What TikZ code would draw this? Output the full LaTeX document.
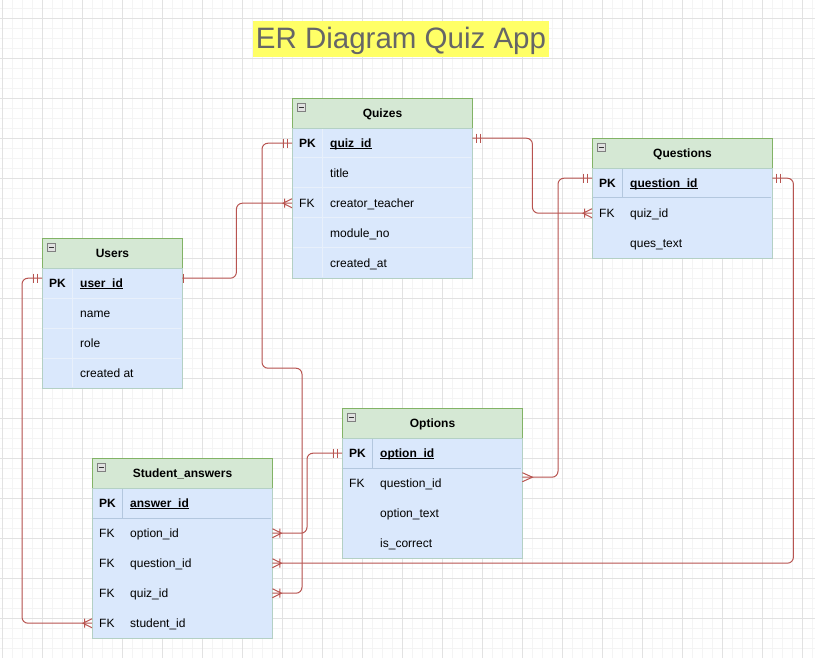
\documentclass[tikz,border=0pt]{standalone}
\usepackage{fontspec}
\setmainfont{Liberation Sans}
\definecolor{linered}{HTML}{B85450}
\definecolor{hdrfill}{HTML}{D5E8D4}
\definecolor{hdrline}{HTML}{82B366}
\definecolor{bodyfill}{HTML}{DAE8FC}
\definecolor{bodyline}{HTML}{B4D0C4}
\definecolor{sepline}{HTML}{B3C7DE}
\definecolor{faintsep}{HTML}{E8F0FB}
\definecolor{gridminor}{HTML}{F4F4F4}
\definecolor{gridmajor}{HTML}{E2E2E2}
\definecolor{titlefill}{HTML}{FFFF66}
\definecolor{titletext}{HTML}{666666}
\newcommand\tabfs{\fontsize{12}{14}\selectfont}
\newcommand\pkul[1]{\setbox0=\hbox{#1}\rlap{\rule[-1.6pt]{\wd0}{1.2pt}}\box0}
\tikzset{
  relline/.style={draw=linered, line width=1pt, rounded corners=6pt},
  markline/.style={draw=linered, line width=1pt},
  hdr/.style={draw=hdrline, fill=hdrfill, line width=1pt, minimum height=30, inner sep=0, anchor=north west, font=\bfseries\tabfs, text height=8.6pt, text depth=0pt},
  body/.style={draw=bodyline, fill=bodyfill, line width=1pt, anchor=north west, inner sep=0},
  row/.style={anchor=north west, inner sep=0, minimum height=30},
  keyt/.style={anchor=west, inner sep=0, font=\tabfs, text height=8.6pt, text depth=0pt},
  fldt/.style={anchor=west, inner sep=0, font=\tabfs, text height=8.6pt, text depth=0pt},
  pksep/.style={draw=sepline, line width=1pt},
  fsep/.style={draw=faintsep, line width=1pt},
  iconbox/.style={draw=black!50, fill=black!12, line width=0.8pt},
  pics/cmany/.style={code={\draw[markline] (0,-4.5) -- (9,0) -- (0,4.5) (7.5,-4.5) -- (7.5,4.5);}},
  pics/cfoot/.style={code={\draw[markline] (0,-4.5) -- (10,0) -- (0,4.5);}},
  pics/mone/.style={code={\draw[markline] (4.5,-4.5) -- (4.5,4.5) (8.5,-4.5) -- (8.5,4.5);}},
  pics/sone/.style={code={\draw[markline] (1,-4.5) -- (1,4.5);}},
}
\newcommand\errow[6]{%
  \node[row, minimum width=#4] (#1) at (#2,#3) {};
  \node[keyt] (#1-k) at ([xshift=7pt]#1.west) {#5};
  \node[fldt] (#1-f) at ([xshift=38pt]#1.west) {#6};
}
\newcommand\minusicon[1]{%
  \draw[iconbox] ([xshift=5pt,yshift=-5.5pt]#1.north west) rectangle ++(8.5,8);
  \draw[line width=1pt, black!80] ([xshift=6.8pt,yshift=-9.5pt]#1.north west) -- ++(5,0);
}
\begin{document}
\begin{tikzpicture}[x=1pt, y=-1pt]
\useasboundingbox (0,0) rectangle (815,658);
\fill[white] (0,0) rectangle (815,658);
% grid
\foreach \x in {2,12,...,812} \draw[gridminor, line width=0.8pt] (\x,0) -- (\x,658);
\foreach \y in {8,18,...,658} \draw[gridminor, line width=0.8pt] (0,\y) -- (815,\y);
\foreach \x in {2,42,...,802} \draw[gridmajor, line width=0.8pt] (\x,0) -- (\x,658);
\foreach \y in {18,58,...,658} \draw[gridmajor, line width=0.8pt] (0,\y) -- (815,\y);

% title
\node[fill=titlefill, minimum width=296, minimum height=36, inner sep=0] (titlebox) at (401,39) {};
\node[text=titletext, inner sep=0, font=\fontsize{29.5}{32}\selectfont, text height=21pt, text depth=0pt] (title) at (401,38.5) {ER Diagram Quiz App};

% ---------- Quizes ----------
\node[hdr, minimum width=180] (qz) at (292,98) {Quizes};
\node[body, minimum width=180, minimum height=150] (qzb) at (292,128) {};
\foreach \yy in {158,188,218,248} \draw[fsep] (293,\yy) -- (471,\yy);
\draw[fsep] (322,129) -- (322,277);
\errow{qz-pk}{292}{128}{180}{\bfseries PK}{\bfseries\pkul{quiz\_id}}
\errow{qz-title}{292}{158}{180}{}{title}
\errow{qz-creator}{292}{188}{180}{FK}{creator\_teacher}
\errow{qz-module}{292}{218}{180}{}{module\_no}
\errow{qz-created}{292}{248}{180}{}{created\_at}
\minusicon{qz}

% ---------- Questions ----------
\node[hdr, minimum width=180] (qs) at (592,138) {Questions};
\node[body, minimum width=180, minimum height=90] (qsb) at (592,168) {};
\draw[pksep] (593,198) -- (771,198);
\draw[pksep] (622,169) -- (622,198);
\errow{qs-pk}{592}{168}{180}{\bfseries PK}{\bfseries\pkul{question\_id}}
\errow{qs-quiz}{592}{198}{180}{FK}{quiz\_id}
\errow{qs-text}{592}{228}{180}{}{ques\_text}
\minusicon{qs}

% ---------- Users ----------
\node[hdr, minimum width=140] (us) at (42,238) {Users};
\node[body, minimum width=140, minimum height=120] (usb) at (42,268) {};
\foreach \yy in {298,328,358} \draw[fsep] (43,\yy) -- (181,\yy);
\draw[fsep] (72,269) -- (72,387);
\errow{us-pk}{42}{268}{140}{\bfseries PK}{\bfseries\pkul{user\_id}}
\errow{us-name}{42}{298}{140}{}{name}
\errow{us-role}{42}{328}{140}{}{role}
\errow{us-created}{42}{358}{140}{}{created at}
\minusicon{us}

% ---------- Options ----------
\node[hdr, minimum width=180] (op) at (342,408) {Options};
\node[body, minimum width=180, minimum height=120] (opb) at (342,438) {};
\draw[pksep] (343,468) -- (521,468);
\draw[pksep] (372,439) -- (372,468);
\errow{op-pk}{342}{438}{180}{\bfseries PK}{\bfseries\pkul{option\_id}}
\errow{op-q}{342}{468}{180}{FK}{question\_id}
\errow{op-text}{342}{498}{180}{}{option\_text}
\errow{op-correct}{342}{528}{180}{}{is\_correct}
\minusicon{op}

% ---------- Student_answers ----------
\node[hdr, minimum width=180] (sa) at (92,458) {Student\_answers};
\node[body, minimum width=180, minimum height=150] (sab) at (92,488) {};
\draw[pksep] (93,518) -- (271,518);
\draw[pksep] (122,489) -- (122,518);
\errow{sa-pk}{92}{488}{180}{\bfseries PK}{\bfseries\pkul{answer\_id}}
\errow{sa-opt}{92}{518}{180}{FK}{option\_id}
\errow{sa-q}{92}{548}{180}{FK}{question\_id}
\errow{sa-quiz}{92}{578}{180}{FK}{quiz\_id}
\errow{sa-stu}{92}{608}{180}{FK}{student\_id}
\minusicon{sa}

% ---------- connectors ----------
\draw[relline] ([yshift=5pt]us-pk.east) -- ++(54,0) |- (qz-creator.west);
\draw[relline] (qz-pk.west) -- ++(-30,0) -- ++(0,225) -- ++(40,0) |- (sa-quiz.east);
\draw[relline] ([yshift=5pt]qz-pk.east) -- ++(60,0) |- (qs-quiz.west);
\draw[relline] ([yshift=5pt]qs-pk.west) -- ++(-34,0) |- ([yshift=6pt]op-q.east);
\draw[relline] ([yshift=5pt]qs-pk.east) -- ++(21,0) |- (sa-q.east);
\draw[relline] (op-pk.west) -- ++(-35,0) |- (sa-opt.east);
\draw[relline] ([yshift=5pt]us-pk.west) -- ++(-20,0) |- (sa-stu.west);

% ---------- markers ----------
\pic at ([yshift=5pt]us-pk.east) {sone};
\pic[xscale=-1] at (qz-creator.west) {cmany};
\pic[xscale=-1] at (qz-pk.west) {mone};
\pic at (sa-quiz.east) {cmany};
\pic at ([yshift=5pt]qz-pk.east) {mone};
\pic[xscale=-1] at (qs-quiz.west) {cmany};
\pic[xscale=-1] at ([yshift=5pt]qs-pk.west) {mone};
\pic at ([yshift=6pt]op-q.east) {cfoot};
\pic at ([yshift=5pt]qs-pk.east) {mone};
\pic at (sa-q.east) {cmany};
\pic[xscale=-1] at (op-pk.west) {mone};
\pic at (sa-opt.east) {cmany};
\pic[xscale=-1] at ([yshift=5pt]us-pk.west) {mone};
\pic[xscale=-1] at (sa-stu.west) {cmany};
\end{tikzpicture}
\end{document}
